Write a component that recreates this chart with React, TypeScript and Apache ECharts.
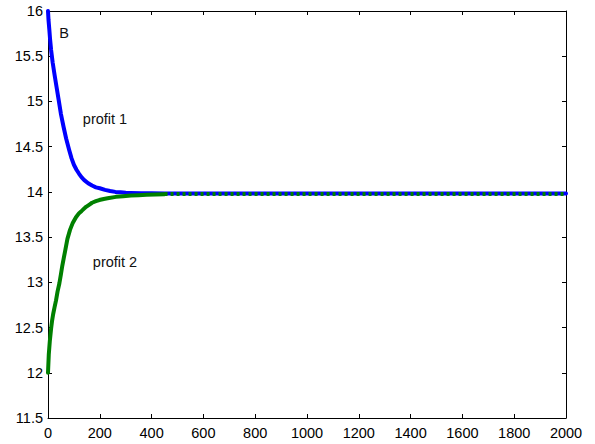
import React, { useEffect, useRef } from "react";
import * as echarts from "echarts";

const profit1X = [0, 2, 5, 8, 12, 18, 25, 33, 41, 50, 60, 70, 82, 91, 100, 110, 120, 130, 140, 155, 170, 185, 200, 220, 240, 260, 280, 300, 320, 360, 400, 450, 600, 1000, 1500, 2000];
const profit1Y = [16, 15.9, 15.8, 15.69, 15.57, 15.43, 15.3, 15.16, 15.02, 14.86, 14.72, 14.59, 14.46, 14.37, 14.3, 14.245, 14.2, 14.16, 14.13, 14.095, 14.07, 14.05, 14.04, 14.022, 14.01, 14.0, 13.995, 13.99, 13.988, 13.985, 13.984, 13.983, 13.982, 13.982, 13.982, 13.982];
const profit2X = [0, 3, 7, 12, 16, 20, 25, 31, 37, 44, 50, 55, 61, 67, 75, 85, 96, 108, 120, 130, 147, 160, 170, 185, 198, 215, 230, 262, 290, 320, 350, 380, 450];
const profit2Y = [12, 12.2, 12.35, 12.49, 12.58, 12.65, 12.72, 12.8, 12.9, 12.99, 13.09, 13.18, 13.27, 13.36, 13.48, 13.58, 13.66, 13.72, 13.765, 13.79, 13.835, 13.86, 13.88, 13.897, 13.91, 13.922, 13.93, 13.945, 13.953, 13.96, 13.964, 13.968, 13.975];
const overlapX = [450, 2000];
const overlapY = [13.978, 13.978];

const xTicks = { min: 0, max: 2000, interval: 200 };
const yTicks = { min: 11.5, max: 16, interval: 0.5 };

const labels = [
  { text: "B", x: 64, y: 33 },
  { text: "profit 1", x: 105, y: 119 },
  { text: "profit 2", x: 115, y: 262 },
];

const FONT = "'Liberation Sans', Arial, sans-serif";

export default function App() {
  const ref = useRef<HTMLDivElement>(null);
  useEffect(() => {
    if (!ref.current) return;
    const chart = echarts.init(ref.current, undefined, { renderer: "svg" });
    const zip = (xs: number[], ys: number[]) => xs.map((x, i) => [x, ys[i]]);
    const axisCommon = {
      axisLine: { show: true, onZero: false, lineStyle: { color: "#000", width: 1 } },
      axisTick: { show: true, inside: true, length: 4, lineStyle: { color: "#000" } },
      splitLine: { show: false },
    };
    chart.setOption({
      animation: false,
      backgroundColor: "#fff",
      grid: { left: 48, right: 29, top: 11, bottom: 26, containLabel: false },
      xAxis: [
        {
          type: "value",
          ...xTicks,
          position: "bottom",
          ...axisCommon,
          axisLabel: { color: "#000", fontSize: 14.5, fontFamily: FONT, margin: 7, formatter: (v: number) => String(v) },
        },
        {
          type: "value",
          ...xTicks,
          position: "top",
          ...axisCommon,
          axisLabel: { show: false },
        },
      ],
      yAxis: [
        {
          type: "value",
          ...yTicks,
          position: "left",
          ...axisCommon,
          axisLabel: { color: "#000", fontSize: 14.5, fontFamily: FONT, margin: 5, formatter: (v: number) => String(v) },
        },
        {
          type: "value",
          ...yTicks,
          position: "right",
          ...axisCommon,
          axisLabel: { show: false },
        },
      ],
      series: [
        {
          type: "line",
          name: "profit 1",
          data: zip(profit1X, profit1Y),
          showSymbol: false,
          lineStyle: { color: "#0000ff", width: 4, join: "round", cap: "round" },
          z: 2,
        },
        {
          type: "line",
          name: "profit 2",
          data: zip(profit2X, profit2Y),
          showSymbol: false,
          lineStyle: { color: "#008000", width: 4, join: "round", cap: "round" },
          z: 3,
        },
        {
          type: "line",
          name: "overlap",
          data: zip(overlapX, overlapY),
          showSymbol: false,
          lineStyle: { color: "#008000", width: 4, type: [3, 3] },
          z: 4,
        },
      ],
      graphic: labels.map((l) => ({
        type: "text",
        x: l.x,
        y: l.y,
        style: {
          text: l.text,
          fontSize: 14.5,
          fontFamily: FONT,
          fill: "#111",
          align: "center",
          verticalAlign: "middle",
        },
      })),
    });
    return () => chart.dispose();
  }, []);
  return <div ref={ref} style={{ width: 595, height: 444, position: "absolute", left: 0, top: 0 }} />;
}
